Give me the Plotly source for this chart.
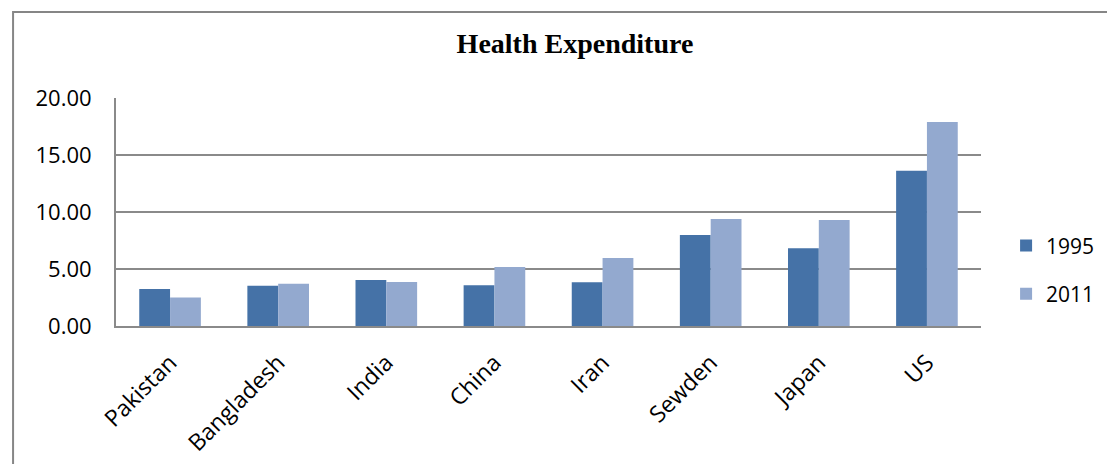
import plotly.graph_objects as go

countries = ["Pakistan", "Bangladesh", "India", "China", "Iran", "Sewden", "Japan", "US"]
spend_1995 = [3.25, 3.54, 4.03, 3.57, 3.83, 7.98, 6.81, 13.62]
spend_2011 = [2.50, 3.71, 3.86, 5.18, 5.96, 9.39, 9.30, 17.90]

fig = go.Figure()
fig.add_trace(go.Bar(x=countries, y=spend_1995, name="1995", legendgroup="a",
                     marker=dict(color="#4572A7", line=dict(width=0))))
fig.add_trace(go.Bar(x=countries, y=spend_2011, name="2011", legendgroup="b",
                     marker=dict(color="#93A9CF", line=dict(width=0))))

fig.update_layout(
    width=1115, height=464,
    margin=dict(l=108, r=142, t=90, b=146),
    paper_bgcolor="white", plot_bgcolor="white",
    barmode="group", bargap=0.43, bargroupgap=0,
    font=dict(family="Open Sans, Lato, sans-serif", size=22, color="#000000"),
    title=dict(text="<b>Health Expenditure</b>", x=0.5085, xanchor="center",
               y=0.924, yanchor="middle",
               font=dict(family="Liberation Serif, Times New Roman, serif", size=28)),
    legend=dict(x=1.029, xanchor="left", y=0.246, yanchor="middle",
                font=dict(size=21), itemwidth=30, tracegroupgap=18),
    showlegend=True,
)
fig.update_xaxes(tickangle=-45, showline=True, linecolor="#8a8a8a", linewidth=2,
                 ticks="", tickfont=dict(size=23), ticklabelstandoff=12)
fig.update_yaxes(range=[0, 20], dtick=5, tickformat=".2f", showgrid=True,
                 gridcolor="#8a8a8a", gridwidth=2, showline=True,
                 linecolor="#8a8a8a", linewidth=2, zeroline=False,
                 ticks="", tickfont=dict(size=22), ticklabelstandoff=18)

# outer chart frame (right and bottom edges run off the canvas)
fig.add_shape(type="rect", xref="paper", yref="paper",
              x0=-0.119, x1=1.25, y0=-0.8, y1=1.377,
              line=dict(color="#868686", width=2), fillcolor="rgba(0,0,0,0)",
              layer="below")

fig.write_html("out.html")
